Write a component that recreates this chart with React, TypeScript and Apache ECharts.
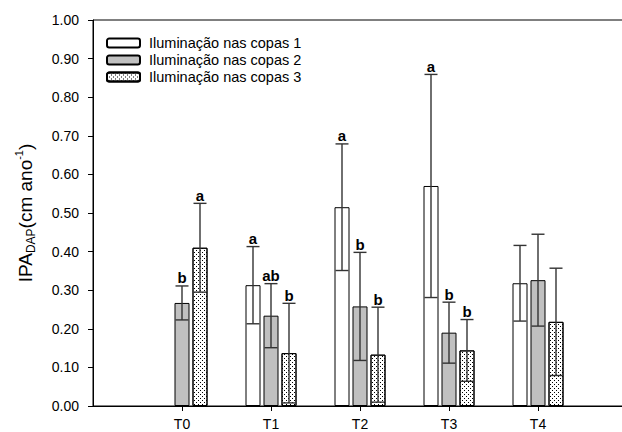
import React, { useEffect, useRef } from "react";
import * as echarts from "echarts";

const categories = ["T0", "T1", "T2", "T3", "T4"];
const seriesNames = [
  "Iluminação nas copas 1",
  "Iluminação nas copas 2",
  "Iluminação nas copas 3",
];
const mean1: (number | null)[] = [null, 0.313, 0.515, 0.57, 0.318];
const err1: (number | null)[] = [null, 0.1, 0.164, 0.289, 0.098];
const mean2: (number | null)[] = [0.267, 0.234, 0.258, 0.19, 0.326];
const err2: (number | null)[] = [0.044, 0.083, 0.14, 0.079, 0.119];
const mean3: (number | null)[] = [0.41, 0.137, 0.133, 0.144, 0.218];
const err3: (number | null)[] = [0.115, 0.129, 0.123, 0.08, 0.139];
const letters1 = ["", "a", "a", "a", ""];
const letters2 = ["b", "ab", "b", "b", ""];
const letters3 = ["a", "b", "b", "b", ""];
const yTicks = [0, 0.1, 0.2, 0.3, 0.4, 0.5, 0.6, 0.7, 0.8, 0.9, 1.0];

const FONT = "'Liberation Sans', Arial, sans-serif";

export default function App() {
  const ref = useRef<HTMLDivElement>(null);
  useEffect(() => {
    if (!ref.current) return;
    const chart = echarts.init(ref.current, null, { renderer: "svg" });
    const means = [mean1, mean2, mean3];
    const errs = [err1, err2, err3];
    const letters = [letters1, letters2, letters3];
    const errRows: any[] = [];
    means.forEach((arr, k) => {
      arr.forEach((m, i) => {
        if (m == null) return;
        errRows.push([i + 1, m, errs[k][i], k, letters[k][i]]);
      });
    });
    const barData = (arr: (number | null)[]) =>
      arr.map((v, i) => (v == null ? null : [i + 1, v])).filter((d) => d !== null);

    const styles = [
      { color: "#ffffff", borderColor: "#000", borderWidth: 1 },
      { color: "#c0c0c0", borderColor: "#000", borderWidth: 1 },
      {
        color: "#ffffff",
        borderColor: "#000",
        borderWidth: 1,
        decal: {
          symbol: "rect",
          symbolSize: 1,
          color: "#000",
          dashArrayX: [
            [1, 3],
            [0, 2, 1, 1],
          ],
          dashArrayY: [1, 1],
        },
      },
    ];

    const option: any = {
      animation: false,
      backgroundColor: "#fff",
      textStyle: { fontFamily: FONT },
      grid: {
        left: 93,
        top: 20,
        width: 534,
        height: 386,
        show: true,
        borderColor: "#000",
        borderWidth: 1,
        containLabel: false,
        outerBoundsMode: "none",
      },
      legend: {
        data: seriesNames,
        orient: "vertical",
        left: 106,
        top: 35,
        padding: 0,
        itemWidth: 33,
        itemHeight: 9,
        itemGap: 1,
        textStyle: {
          fontSize: 14.5,
          lineHeight: 16,
          color: "#000",
          fontFamily: FONT,
          padding: [0, 0, 0, 4],
        },
      },
      xAxis: {
        type: "category",
        data: ["", ...categories, ""],
        boundaryGap: false,
        axisLine: { lineStyle: { color: "#000", width: 1 } },
        axisTick: {
          length: 5,
          lineStyle: { color: "#000" },
          interval: (i: number) => i >= 1 && i <= categories.length,
        },
        axisLabel: {
          color: "#000",
          fontSize: 14,
          margin: 11,
          fontFamily: FONT,
          interval: 0,
        },
        splitLine: { show: false },
      },
      yAxis: {
        type: "value",
        min: yTicks[0],
        max: yTicks[yTicks.length - 1],
        interval: 0.1,
        axisLine: { show: true, lineStyle: { color: "#000", width: 1 } },
        axisTick: { show: true, length: 5, lineStyle: { color: "#000" } },
        axisLabel: {
          color: "#000",
          fontSize: 14,
          margin: 14,
          fontFamily: FONT,
          formatter: (v: number) => v.toFixed(2),
        },
        splitLine: { show: false },
        name: "{main|IPA}{sub|DAP}{main|(cm ano}{sup|-1}{main|)}",
        nameLocation: "middle",
        nameRotate: 90,
        nameGap: 56,
        nameTextStyle: {
          color: "#000",
          fontFamily: FONT,
          rich: {
            main: { fontSize: 19, lineHeight: 24, color: "#000", fontFamily: FONT, verticalAlign: "middle" },
            sub: { fontSize: 12, lineHeight: 12, color: "#000", fontFamily: FONT, verticalAlign: "bottom" },
            sup: { fontSize: 11, lineHeight: 11, color: "#000", fontFamily: FONT, verticalAlign: "top" },
          },
        },
      },
      series: [
        ...[mean1, mean2, mean3].map((arr, k) => ({
          type: "bar",
          name: seriesNames[k],
          data: barData(arr),
          barWidth: 15,
          barGap: "20%",
          itemStyle: styles[k],
          emphasis: { disabled: true },
        })),
        {
          type: "custom",
          name: "err",
          z: 10,
          data: errRows,
          encode: { x: 0, y: 1 },
          renderItem: (params: any, api: any) => {
            const row = errRows[params.dataIndex];
            const x = row[0];
            const m = row[1];
            const e = row[2];
            const k = row[3];
            const letter = row[4];
            const top = api.coord([x, m + e]);
            const bot = api.coord([x, Math.max(0, m - e)]);
            const cx = top[0] + (k - 1) * 18;
            const half = 6.5;
            const ls = { stroke: "#333", lineWidth: 1.4 };
            const children: any[] = [
              { type: "line", shape: { x1: cx, y1: top[1], x2: cx, y2: bot[1] }, style: ls },
              { type: "line", shape: { x1: cx - half, y1: top[1], x2: cx + half, y2: top[1] }, style: ls },
              { type: "line", shape: { x1: cx - half, y1: bot[1], x2: cx + half, y2: bot[1] }, style: ls },
            ];
            if (letter) {
              children.push({
                type: "text",
                style: {
                  text: letter,
                  x: cx,
                  y: top[1] - 8,
                  align: "center",
                  verticalAlign: "middle",
                  fontSize: 15,
                  fontWeight: "bold",
                  fontFamily: FONT,
                  fill: "#000",
                },
              });
            }
            return { type: "group", children };
          },
        },
      ],
    };
    chart.setOption(option);
    return () => chart.dispose();
  }, []);
  return (
    <div
      ref={ref}
      style={{ position: "fixed", left: 0, top: 0, width: 622, height: 432 }}
    />
  );
}
